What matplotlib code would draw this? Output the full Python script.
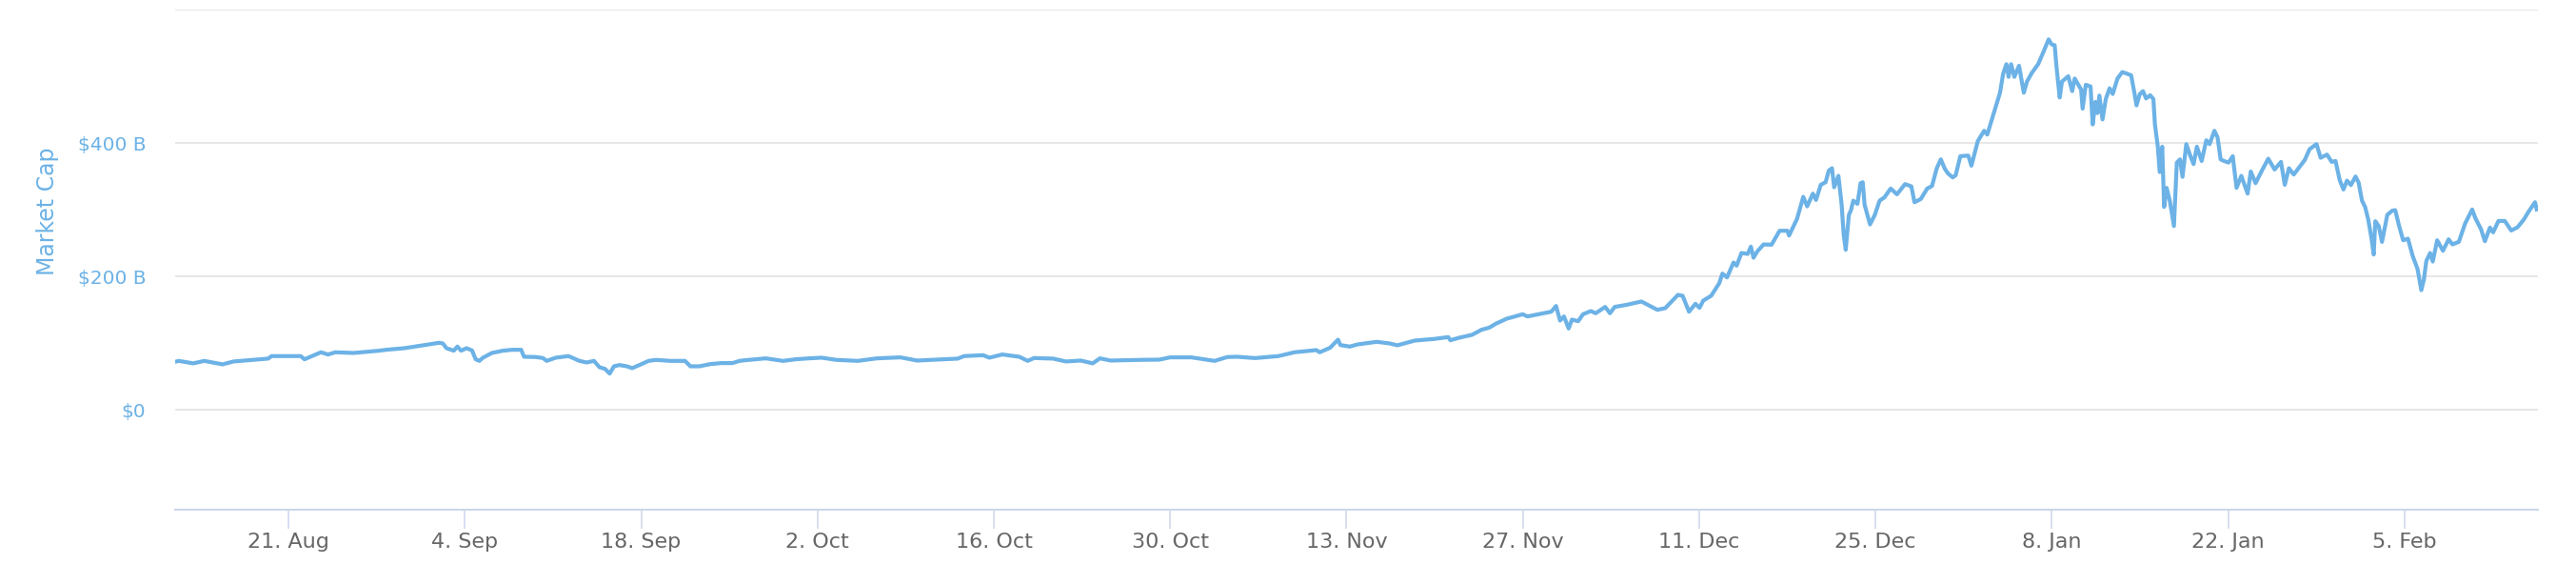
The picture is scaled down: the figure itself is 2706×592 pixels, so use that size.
import pandas as pd
import matplotlib.pyplot as plt
import matplotlib.dates as mdates
from matplotlib.ticker import FixedLocator, FixedFormatter

# %% Data: days since 12 Aug 2017, market cap in billions of USD
start = pd.Timestamp('2017-08-12')

days = [0.0, 0.29, 1.44, 2.31, 3.76, 4.63, 7.37, 7.66, 9.97, 10.27, 11.57, 12.14, 12.72, 14.17,
        16.19, 16.77, 18.22, 19.66, 20.97, 21.25, 21.54, 22.12, 22.41, 22.70, 23.13, 23.57,
        23.86, 24.15, 24.44, 25.15, 26.02, 26.75, 27.47, 27.70, 28.63, 29.20, 29.50, 30.22,
        31.23, 32.10, 32.67, 33.25, 33.69, 34.12, 34.50, 34.84, 35.28, 35.86, 36.29, 36.86,
        37.59, 38.17, 39.31, 40.48, 40.91, 41.63, 42.51, 43.38, 44.24, 44.82, 45.26, 46.9,
        48.27, 49.26, 50.32, 51.33, 52.51, 54.20, 55.72, 57.57, 58.92, 62.13, 62.64, 64.15,
        64.65, 65.67, 67.02, 67.69, 68.20, 69.72, 70.73, 71.91, 72.85, 73.43, 74.27, 76.63,
        78.15, 79.00, 80.68, 82.53, 83.54, 84.32, 85.74, 87.6, 88.86, 90.62, 90.87, 91.7,
        92.33, 92.51, 93.26, 93.9, 95.41, 96.42, 97.04, 98.43, 99.94, 101.08, 101.25, 101.96,
        102.97, 103.72, 104.35, 104.85, 105.73, 106.11, 106.99, 107.37, 108.25, 109.26,
        109.64, 109.96, 110.27, 110.64, 110.9, 111.4, 111.78, 112.41, 112.79, 113.54, 113.92,
        114.3, 115.28, 116.42, 117.05, 117.68, 118.31, 119.32, 119.69, 119.95, 120.2, 120.71,
        121.03, 121.33, 121.96, 122.6, 122.85, 123.22, 123.73, 123.98, 124.36, 124.86,
        125.11, 125.32, 125.62, 126.12, 126.75, 127.39, 128.01, 128.14, 128.77, 129.27,
        129.58, 130.03, 130.28, 130.66, 131.04, 131.3, 131.55, 131.72, 132.06, 132.31,
        132.48, 132.64, 132.89, 133.06, 133.24, 133.57, 133.82, 133.99, 134.14, 134.57,
        134.95, 135.33, 135.71, 136.21, 136.71, 137.35, 137.85, 138.1, 138.6, 139.11,
        139.49, 139.87, 140.19, 140.5, 140.75, 141.13, 141.37, 141.74, 142.37, 142.62,
        143.13, 143.63, 143.88, 144.39, 144.89, 145.14, 145.4, 145.57, 145.77, 146.03,
        146.4, 146.78, 147.03, 147.41, 147.92, 148.3, 148.75, 149.0, 149.23, 149.38,
        149.63, 149.81, 150.31, 150.62, 150.82, 151.33, 151.45, 151.7, 152.08, 152.25,
        152.46, 152.63, 152.78, 153.03, 153.29, 153.59, 153.84, 154.22, 154.6, 154.97,
        155.3, 155.56, 155.73, 155.98, 156.24, 156.49, 156.81, 157.07, 157.19, 157.42,
        157.57, 157.77, 157.92, 158.12, 158.37, 158.7, 158.93, 159.18, 159.38, 159.68,
        160.01, 160.26, 160.52, 160.9, 161.27, 161.53, 161.91, 162.16, 162.41, 162.67,
        163.04, 163.37, 163.67, 164.05, 164.55, 164.8, 165.18, 165.69, 166.19, 166.69,
        167.2, 167.5, 167.83, 168.21, 168.71, 169.09, 169.47, 170.02, 170.35, 170.85,
        171.23, 171.53, 171.86, 172.16, 172.44, 172.75, 173.12, 173.37, 173.63, 173.88,
        174.13, 174.39, 174.56, 174.69, 174.96, 175.22, 175.64, 176.02, 176.27, 176.58,
        176.9, 177.28, 177.66, 178.04, 178.34, 178.54, 178.74, 179.04, 179.25, 179.6,
        180.06, 180.51, 180.81, 181.32, 181.82, 182.38, 182.63, 183.08, 183.39, 183.79,
        184.04, 184.47, 184.97, 185.48, 185.98, 186.49, 186.87, 187.37, 187.5]

market_cap = [72, 73.3, 69.6, 73.3, 68.1, 72.4, 76.7, 80.5, 80.5, 75.7, 86.2, 82.9, 86.2, 85.2,
              88.6, 90, 92.4, 96.7, 100.5, 99.5, 92.4, 88.6, 94.8, 88.6, 92.4, 89,
              75.7, 73.3, 78.1, 85.2, 88.6, 90, 90, 79.5, 79.1, 77.6, 73.3, 78.1,
              80.5, 73.3, 70.9, 73.3, 63.8, 61.4, 54.3, 65.2, 67.1, 65.2, 62.4, 67.1,
              73.3, 74.8, 73.3, 73.3, 65.2, 65.2, 68.6, 70, 70, 73.3, 74.3, 77.1,
              73.3, 75.7, 77.1, 78.1, 74.8, 73.3, 77.1, 78.6, 73.8, 76.7, 80.5, 81.9,
              78.1, 82.9, 79.5, 73.3, 77.6, 76.7, 72.4, 73.8, 69.6, 77.1, 73.8, 74.8,
              75.2, 78.6, 78.6, 73.3, 79.1, 79.5, 77.5, 80.5, 86.2, 89.5, 86.2, 93,
              105.2, 97.1, 94.8, 98.1, 101.9, 99.5, 96.7, 103.8, 106.2, 109, 104.3, 108.1,
              112.4, 120, 123.3, 129, 136.7, 138.6, 143.3, 140, 143.3, 147.1,
              155.7, 133.8, 140, 121.9, 135.2, 132.9, 143.3, 148.1, 144.8, 154.3, 144.8,
              154.3, 157.6, 162.4, 156.2, 150, 152.4, 172.4, 171, 159, 147.1, 159,
              152.9, 163.8, 171, 190, 204.3, 198.6, 221, 216.2, 235.2, 233.8,
              244.8, 228.1, 237.6, 248.1, 247.6, 268.6, 268.6, 261.4, 286.2, 319.5,
              305.2, 324.3, 314.8, 337.6, 341.4, 359, 362.4, 333.8, 351, 309,
              262.4, 240, 292.4, 299.5, 313.8, 309, 340, 341.4, 307.6, 278.1,
              292.4, 313.8, 318.6, 331.9, 323.3, 338.6, 335.2, 311.4, 316.2, 331.9,
              335.7, 362.4, 375.7, 361.9, 354.8, 348.6, 351.9, 380.5, 381.4, 366.2,
              403.3, 418.6, 412.9, 444.8, 475.7, 504.3, 518.6, 499.5, 518.6, 499.5,
              516.2, 475.7, 492.4, 505.2, 518.6, 535.2, 555.7, 548.1, 547.1, 513.8,
              468.6, 492.4, 500.5, 478.1, 497.1, 480.5, 451.9, 487.6, 485.2, 428.1,
              461.9, 445.2, 471.4, 435.7, 466.2, 482.4, 473.8, 497.1, 506.7, 504.3,
              501.9, 475.7, 456.7, 473.3, 478.1, 467.1, 471.9, 466.2, 428.1, 394.8,
              356.7, 394.8, 304.3, 332.9, 313.8, 275.7, 371, 375.7, 349.5, 398.6,
              380.5, 368.6, 394.8, 373.3, 404.3, 398.6, 418.6, 409, 375.7, 373.3,
              371, 380.5, 332.9, 351, 324.3, 357.6, 340, 359, 376.7, 360.5,
              371.9, 337.6, 362.4, 352.9, 365.2, 374.8, 391, 398.6, 378.1, 382.9,
              371.9, 373.3, 344.8, 330.5, 343.8, 337.1, 350, 340.5, 313.8, 304.3,
              285.2, 256.7, 232.9, 282.9, 275.7, 251.9, 292.4, 298.6, 299.5, 275.7,
              254.3, 256.7, 230.5, 211.4, 179.5, 194.8, 223.3, 235.2, 222.4, 254.3,
              238.6, 255.7, 248.1, 252, 279.5, 300.5, 287.6, 271, 252.9, 273.3,
              266.2, 283.3, 283.3, 269, 273.8, 285.7, 297.6, 311.4, 300.5]

tick_dates = ['2017-08-21', '2017-09-04', '2017-09-18', '2017-10-02', '2017-10-16',
              '2017-10-30', '2017-11-13', '2017-11-27', '2017-12-11', '2017-12-25',
              '2018-01-08', '2018-01-22', '2018-02-05']
tick_labels = ['21. Aug', '4. Sep', '18. Sep', '2. Oct', '16. Oct', '30. Oct', '13. Nov',
               '27. Nov', '11. Dec', '25. Dec', '8. Jan', '22. Jan', '5. Feb']
y_ticks = [0, 200, 400]
y_labels = ['$0', '$200 B', '$400 B']

# %% Plot
dates = start + pd.to_timedelta(days, unit='D')
blue = '#6cb2e6'

fig = plt.figure(figsize=(27.06, 5.92), dpi=100)
ax = fig.add_axes([184 / 2706, 1 - 535 / 592, (2666 - 184) / 2706, (535 - 10.4) / 592])

for g in [0, 200, 400, 600]:
    ax.axhline(g, color='#e3e3e3', lw=1.2, zorder=1)

ax.plot(dates, market_cap, color=blue, lw=3.0, solid_joinstyle='round', zorder=3)

ax.set_ylim(-150, 600)
ax.set_xlim(start, start + pd.Timedelta(days=187.6))

ax.yaxis.set_major_locator(FixedLocator(y_ticks))
ax.yaxis.set_major_formatter(FixedFormatter(y_labels))
ax.tick_params(axis='y', length=0, pad=22, labelsize=14.5, labelcolor=blue)

ax.set_xticks([mdates.date2num(pd.Timestamp(d)) for d in tick_dates])
ax.set_xticklabels(tick_labels)
ax.tick_params(axis='x', length=14.4, width=1.1, color='#ccd6eb', direction='out',
               pad=3, labelsize=16, labelcolor='#666666')

for side in ['top', 'right', 'left']:
    ax.spines[side].set_visible(False)
ax.spines['bottom'].set_color('#ccd6eb')
ax.spines['bottom'].set_linewidth(1.5)

fig.text(50 / 2706, 1 - 222 / 592, 'Market Cap', rotation=90, color=blue,
         fontsize=17, fontweight='medium', ha='center', va='center')

fig.savefig('out.png', dpi=100)
